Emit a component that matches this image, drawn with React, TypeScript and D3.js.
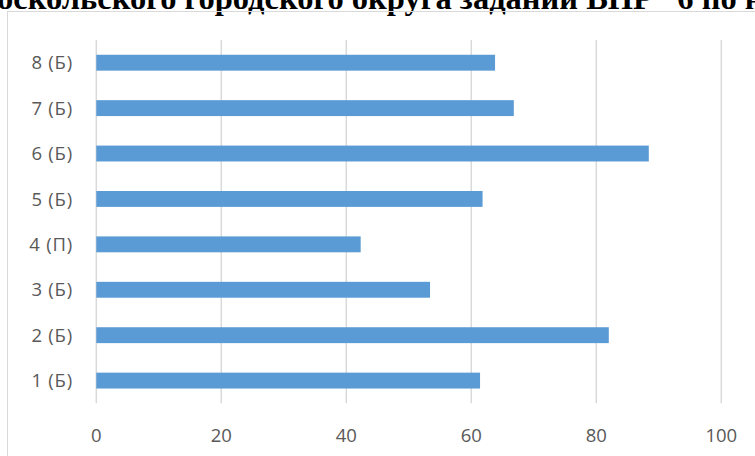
import React from "react";
import * as d3 from "d3";

const categories = ["1 (Б)", "2 (Б)", "3 (Б)", "4 (П)", "5 (Б)", "6 (Б)", "7 (Б)", "8 (Б)"];
const values = [61.4, 82.0, 53.4, 42.3, 61.8, 88.4, 66.8, 63.8];
const xTicks = [0, 20, 40, 60, 80, 100];
const titleText = "оскольского городского округа заданий ВПР\u00a0\u00a0 6 по н";

const W = 755;
const H = 456;
const plotLeft = 96.3;
const plotRight = 721.3;
const plotTop = 40;
const plotBottom = 403.3;

export default function App() {
  const x = d3.scaleLinear().domain([0, 100]).range([plotLeft, plotRight]);
  const y = d3
    .scaleBand<string>()
    .domain([...categories].reverse())
    .range([plotTop, plotBottom])
    .paddingInner(0.65)
    .paddingOuter(0.325);

  const labelFont = "'Open Sans', 'Noto Sans', sans-serif";

  return (
    <svg
      width={W}
      height={H}
      style={{ position: "absolute", left: 0, top: 0, background: "#fff" }}
    >
      <rect x={0} y={0} width={W} height={H} fill="#fff" />
      <text
        x={-3}
        y={9}
        fontFamily="'Liberation Serif', 'Times New Roman', serif"
        fontWeight="bold"
        fontSize={32.5}
        fill="#000"
      >
        {titleText}
      </text>
      <rect
        x={7.5}
        y={11.5}
        width={W + 20}
        height={H + 20}
        fill="none"
        stroke="#d9d9d9"
        strokeWidth={1}
      />
      {xTicks.map((t) => (
        <line
          key={"g" + t}
          x1={x(t)}
          x2={x(t)}
          y1={plotTop}
          y2={plotBottom}
          stroke="#d9d9d9"
          strokeWidth={1.5}
        />
      ))}
      {categories.map((c, i) => (
        <rect
          key={"b" + c}
          x={x(0)}
          y={y(c)!}
          width={x(values[i]) - x(0)}
          height={y.bandwidth()}
          fill="#5b9bd5"
        />
      ))}
      {categories.map((c) => (
        <text
          key={"l" + c}
          x={73}
          y={y(c)! + y.bandwidth() / 2}
          dy="0.36em"
          textAnchor="end"
          fontFamily={labelFont}
          fontSize={18.5}
          letterSpacing={0.8}
          fill="#595959"
        >
          {c}
        </text>
      ))}
      {xTicks.map((t) => (
        <text
          key={"t" + t}
          x={x(t)}
          y={435}
          dy="0.36em"
          textAnchor="middle"
          fontFamily={labelFont}
          fontSize={18.5}
          fill="#595959"
        >
          {t}
        </text>
      ))}
    </svg>
  );
}
